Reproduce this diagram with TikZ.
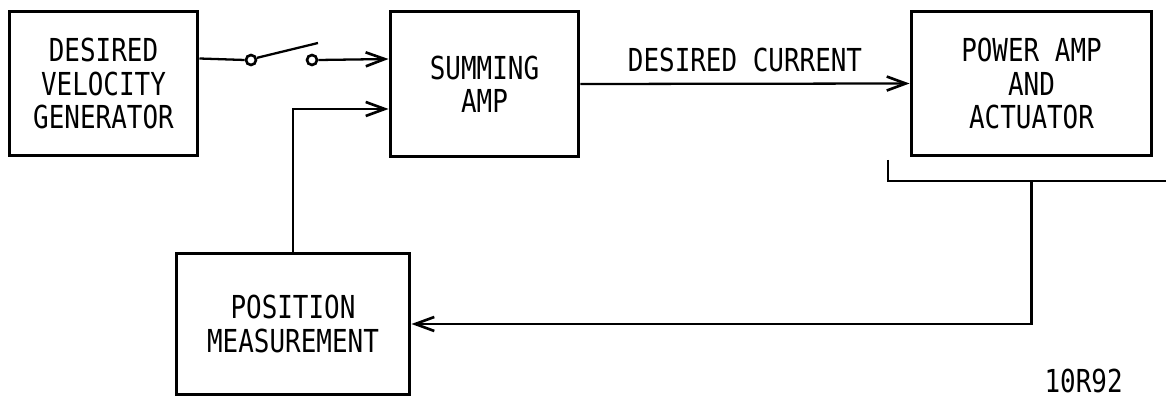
\documentclass[tikz,border=0pt]{standalone}
\usepackage{fontspec}
\setmainfont{DejaVu Sans Mono}[FakeStretch=0.82]
\usepackage{tikz}
\usetikzlibrary{positioning,arrows.meta}

\begin{document}
\begin{tikzpicture}[
  x=0.02cm, y=-0.02cm,
  box/.style={draw, line width=1.7pt, align=center, inner sep=0pt, font=\fontsize{18}{19}\selectfont},
  arr/.style={-{Straight Barb[length=3.8mm, width=2.8mm, line width=1.5pt]}, line width=1.3pt},
  lin/.style={line width=1.3pt},
  pin/.style={circle, draw, line width=1.5pt, minimum size=0.2cm, inner sep=0pt, fill=white}
]
  \useasboundingbox (0,0) rectangle (1166,398);
  \node[box, minimum width=3.78cm, minimum height=2.9cm] (gen) at (103.5,83.5) {DESIRED\\VELOCITY\\GENERATOR};
  \node[box, minimum width=3.78cm, minimum height=2.92cm] (sum) at (484.5,84) {SUMMING\\AMP};
  \node[box, minimum width=4.82cm, minimum height=2.9cm] (pwr) at (1031.5,83.5) {POWER AMP\\AND\\ACTUATOR};
  \node[box, minimum width=4.68cm, minimum height=2.84cm] (pos) at (293,324) {POSITION\\MEASUREMENT};
  \node[pin] (sw1) at (251,60) {};
  \node[pin] (sw2) at (312,60) {};
  \coordinate (lever) at (318,43);
  \coordinate (bl) at (888,160);
  \coordinate (br) at (1166,181);
  \coordinate (tap) at (pwr.south |- br);
  \draw[lin] ([yshift=0.5cm]gen.east) -- (sw1.west);
  \draw[lin] (sw1.20) -- (lever);
  \draw[arr] (sw2.east) -- ([yshift=0.5cm]sum.west);
  \draw[arr] (pos.north) |- ([yshift=-0.5cm]sum.west);
  \draw[arr] (sum.east) -- node[above=3pt, font=\fontsize{18}{19}\selectfont]{DESIRED CURRENT} (pwr.west);
  \draw[lin] (bl) |- (br);
  \draw[arr] (tap) |- (pos.east);
  \node[anchor=base east, inner sep=0pt, font=\fontsize{18}{19}\selectfont] (tag) at (1123,393) {10R92};
\end{tikzpicture}
\end{document}
